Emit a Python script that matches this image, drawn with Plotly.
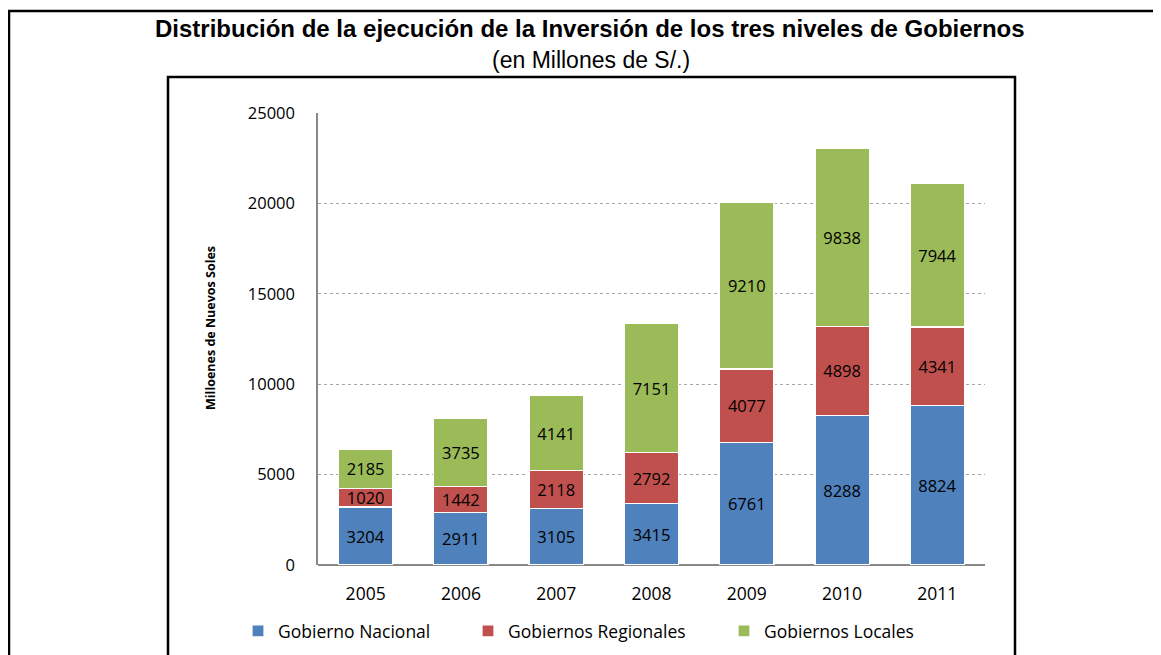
import plotly.graph_objects as go

years = ["2005", "2006", "2007", "2008", "2009", "2010", "2011"]
nacional = [3204, 2911, 3105, 3415, 6761, 8288, 8824]
regionales = [1020, 1442, 2118, 2792, 4077, 4898, 4341]
locales = [2185, 3735, 4141, 7151, 9210, 9838, 7944]
series_names = ["Gobierno Nacional", "Gobiernos Regionales", "Gobiernos Locales"]
colors = ["#4F81BD", "#C0504D", "#9BBB59"]
y_ticks = [0, 5000, 10000, 15000, 20000, 25000]

OFF = 8  # page body margin
W, H = 1161, 655
L, R, T, B = 318, 985, 113, 565
pw, ph = R - L, B - T

def px(x):
    return (x - L) / pw

def py(y):
    return (B - y) / ph

legend_ids = ["legend", "legend2", "legend3"]
legend_x = [238, 468, 724]

fig = go.Figure()
for name, vals, col, lid in zip(series_names, [nacional, regionales, locales], colors, legend_ids):
    fig.add_trace(go.Bar(
        x=years, y=vals, name=name, legend=lid,
        marker=dict(color=col, line=dict(color="white", width=1.2)),
        text=[str(v) for v in vals],
        textposition="inside", insidetextanchor="middle", textangle=0,
        constraintext="none",
        textfont=dict(family="Open Sans", size=16.5, color="black"),
        hoverinfo="skip",
    ))

shapes = [
    dict(type="rect", xref="paper", yref="paper",
         x0=px(9), x1=px(1180), y0=py(11), y1=py(700),
         line=dict(color="black", width=2.5), fillcolor="rgba(0,0,0,0)", layer="below"),
    dict(type="rect", xref="paper", yref="paper",
         x0=px(168), x1=px(1015), y0=py(77), y1=py(700),
         line=dict(color="black", width=2.5), fillcolor="rgba(0,0,0,0)", layer="below"),
]

annotations = [
    dict(text="<b>Distribución de la ejecución de la Inversión de los tres niveles de Gobiernos</b>",
         xref="paper", yref="paper", x=px(590), y=py(29), showarrow=False,
         font=dict(family="Liberation Sans", size=24, color="black"), xanchor="center", yanchor="middle"),
    dict(text="(en Millones de S/.)",
         xref="paper", yref="paper", x=px(591), y=py(60), showarrow=False,
         font=dict(family="Liberation Sans", size=23, color="black"), xanchor="center", yanchor="middle"),
    dict(text="<b>Milloenes de Nuevos Soles</b>",
         xref="paper", yref="paper", x=px(210), y=py(328), showarrow=False, textangle=-90,
         font=dict(family="Open Sans", size=12.5, color="black"), xanchor="center", yanchor="middle"),
]

legend_common = dict(orientation="h", yanchor="middle", xanchor="left",
                     font=dict(family="Open Sans", size=17.5, color="black"),
                     bgcolor="rgba(0,0,0,0)")

fig.update_layout(
    width=W - OFF, height=H - OFF,
    margin=dict(l=L - OFF, r=W - R, t=T - OFF, b=H - B, autoexpand=False),
    paper_bgcolor="white", plot_bgcolor="white",
    barmode="stack", bargap=0.43,
    shapes=shapes, annotations=annotations,
    showlegend=True,
    legend=dict(x=px(legend_x[0]), y=py(631), **legend_common),
    legend2=dict(x=px(legend_x[1]), y=py(631), **legend_common),
    legend3=dict(x=px(legend_x[2]), y=py(631), **legend_common),
    xaxis=dict(showgrid=False, showline=False, ticks="", ticklabelstandoff=16,
               tickfont=dict(family="Open Sans", size=17.5, color="black")),
    yaxis=dict(range=[0, 25000], tickvals=y_ticks, tickformat="d", showgrid=True,
               gridcolor="#A6A6A6", griddash="dot", gridwidth=1,
               showline=True, linecolor="#888888", linewidth=1.5, zeroline=True,
               zerolinecolor="#888888", zerolinewidth=1.5, ticks="", ticklabelstandoff=18,
               tickfont=dict(family="Open Sans", size=16.5, color="black")),
)

fig.write_html("out.html")
